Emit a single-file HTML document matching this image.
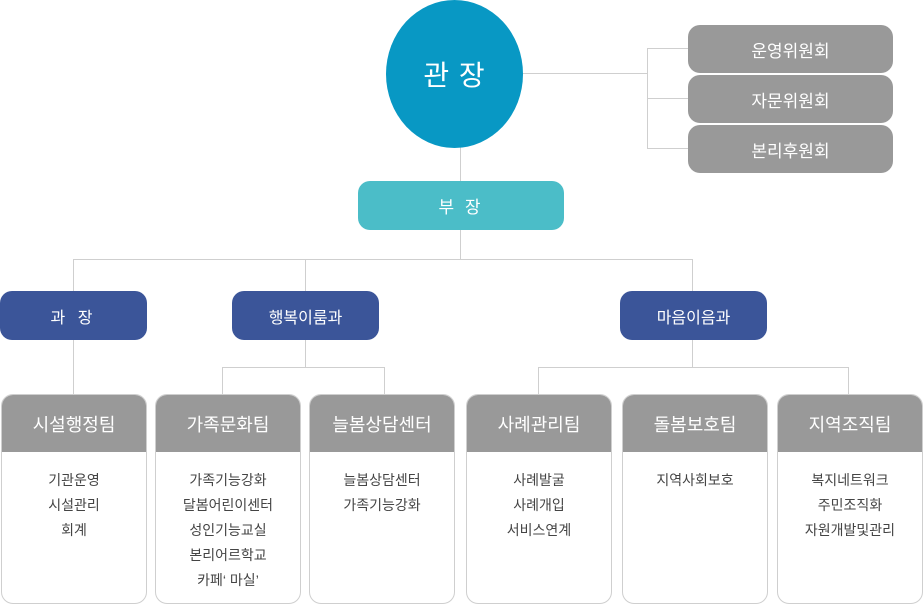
<!DOCTYPE html>
<html><head><meta charset="utf-8"><style>
body{margin:0;width:924px;height:604px;position:relative;background:#fff;font-family:"Liberation Sans","Noto Sans CJK KR",sans-serif;overflow:hidden}
.a{position:absolute;box-sizing:border-box}
.l{position:absolute;background:#cfcfcf}
.c{display:flex;align-items:center;justify-content:center;color:#fff}
.g{background:#999;border-radius:12px;font-size:17px}
.d{background:#3b5599;border-radius:12px;font-size:16px}
.t{border:1px solid #cfcfcf;border-radius:12px;overflow:hidden;background:#fff}
.t .h{height:57px;background:#999;color:#fff;font-size:18px;display:flex;align-items:center;justify-content:center}
.t .b{text-align:center;font-size:14px;color:#444;line-height:25px;padding-top:16px}
</style></head><body>
<div class="l" style="left:522px;top:73px;width:125px;height:1px"></div>
<div class="l" style="left:647px;top:48px;width:1px;height:101px"></div>
<div class="l" style="left:647px;top:48px;width:41px;height:1px"></div>
<div class="l" style="left:647px;top:98px;width:41px;height:1px"></div>
<div class="l" style="left:647px;top:148px;width:41px;height:1px"></div>
<div class="l" style="left:460px;top:140px;width:1px;height:120px"></div>
<div class="l" style="left:73px;top:259px;width:620px;height:1px"></div>
<div class="l" style="left:73px;top:259px;width:1px;height:135px"></div>
<div class="l" style="left:305px;top:259px;width:1px;height:108px"></div>
<div class="l" style="left:692px;top:259px;width:1px;height:108px"></div>
<div class="l" style="left:222px;top:367px;width:163px;height:1px"></div>
<div class="l" style="left:222px;top:367px;width:1px;height:27px"></div>
<div class="l" style="left:384px;top:367px;width:1px;height:27px"></div>
<div class="l" style="left:538px;top:367px;width:311px;height:1px"></div>
<div class="l" style="left:538px;top:367px;width:1px;height:27px"></div>
<div class="l" style="left:848px;top:367px;width:1px;height:27px"></div>

<div class="a c" style="left:386px;top:0;width:137px;height:148px;border-radius:50%;background:#0898c4;font-size:28px;letter-spacing:1px">관 장</div>
<div class="a c g" style="left:688px;top:25px;width:205px;height:48px">운영위원회</div>
<div class="a c g" style="left:688px;top:75px;width:205px;height:48px">자문위원회</div>
<div class="a c g" style="left:688px;top:125px;width:205px;height:48px">본리후원회</div>
<div class="a c" style="left:358px;top:181px;width:206px;height:49px;border-radius:12px;background:#4bbdc8;font-size:17px;letter-spacing:3px">부 장</div>
<div class="a c d" style="left:0;top:291px;width:147px;height:49px;letter-spacing:4px">과 장</div>
<div class="a c d" style="left:232px;top:291px;width:147px;height:49px">행복이룸과</div>
<div class="a c d" style="left:620px;top:291px;width:147px;height:49px">마음이음과</div>

<div class="a t" style="left:1px;top:394px;width:146px;height:210px"><div class="h">시설행정팀</div><div class="b">기관운영<br>시설관리<br>회계</div></div>
<div class="a t" style="left:155px;top:394px;width:146px;height:210px"><div class="h">가족문화팀</div><div class="b">가족기능강화<br>달봄어린이센터<br>성인기능교실<br>본리어르학교<br>카페‘ 마실’</div></div>
<div class="a t" style="left:309px;top:394px;width:146px;height:210px"><div class="h">늘봄상담센터</div><div class="b">늘봄상담센터<br>가족기능강화</div></div>
<div class="a t" style="left:466px;top:394px;width:146px;height:210px"><div class="h">사례관리팀</div><div class="b">사례발굴<br>사례개입<br>서비스연계</div></div>
<div class="a t" style="left:622px;top:394px;width:146px;height:210px"><div class="h">돌봄보호팀</div><div class="b">지역사회보호</div></div>
<div class="a t" style="left:777px;top:394px;width:146px;height:210px"><div class="h">지역조직팀</div><div class="b">복지네트워크<br>주민조직화<br>자원개발및관리</div></div>
</body></html>
